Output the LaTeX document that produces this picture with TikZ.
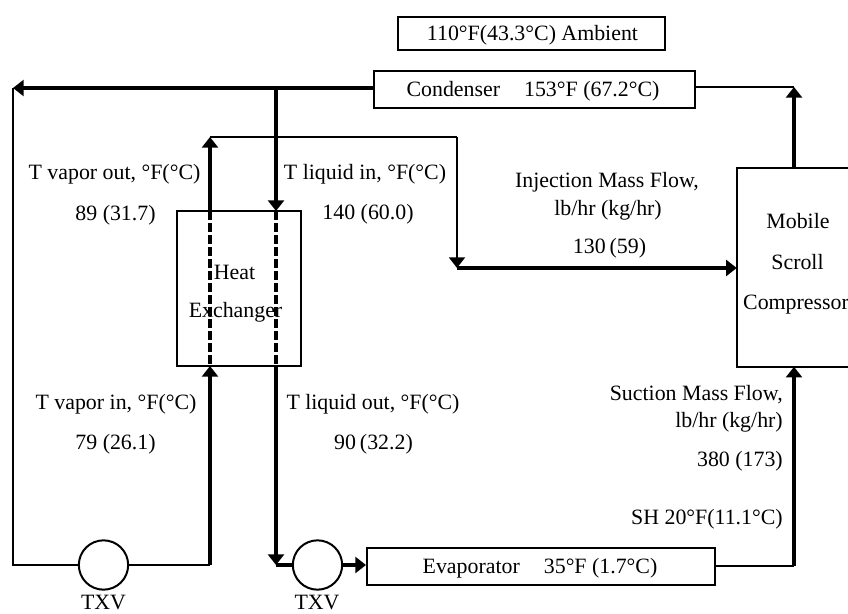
\documentclass[tikz,border=0pt]{standalone}
\usepackage{fontspec}
\setmainfont{Liberation Serif}
\usetikzlibrary{positioning,arrows.meta}

\tikzset{
  box/.style={draw, line width=1.5pt, inner sep=0pt},
  valve/.style={draw, circle, line width=1.5pt, minimum size=37pt, inner sep=0pt},
  thinline/.style={line width=1.5pt},
  thickline/.style={line width=3pt},
  flow/.style={thickline, -{Triangle[length=8pt, width=12pt]}},
  split/.style={line width=3pt, dash pattern=on 6.8pt off 2.2pt},
  lbl/.style={inner sep=0pt, anchor=base, font=\fontsize{16.4}{18}\selectfont}
}

\begin{document}
\begin{tikzpicture}[x=0.75pt, y=-0.75pt]

  \useasboundingbox (0,0) rectangle (848,613);

  % boxes
  \node[box, minimum width=200pt, minimum height=24.75pt] (ambient) at (531.5,33.5) {};
  \node[box, minimum width=240.75pt, minimum height=27.75pt] (condenser) at (534.5,89.5) {};
  \node[box, minimum width=93pt, minimum height=116.25pt] (hx) at (239,288.5) {};
  \node[box, minimum width=261pt, minimum height=27.75pt] (evaporator) at (541,566.5) {};
  \node[minimum width=83.25pt, minimum height=148.5pt, inner sep=0pt] (comp) at (792.5,267.5) {};
  \draw[thinline] (comp.north east) -- (comp.north west) -- (comp.south west) -- (comp.south east);

  % valves
  \node[valve] (txvA) at (103.5,565) {};
  \node[valve] (txvB) at (317.5,565) {};

  % corners and ends
  \coordinate (topL) at (13,88);
  \coordinate (topT) at (276,88);
  \coordinate (hxLtop) at (210,211);
  \coordinate (hxLbot) at (210,366);
  \coordinate (hxRtop) at (276,211);
  \coordinate (hxRbot) at (276,366);
  \coordinate (retTop) at (210,137);
  \coordinate (injTop) at (457,137);
  \coordinate (injBot) at (457,268);
  \coordinate (botL) at (13,565);
  \coordinate (botM) at (210,565);
  \coordinate (botR) at (276,565);
  \coordinate (disTop) at (794,87);
  \coordinate (sucBot) at (794,565.5);

  % thick runs
  \draw[flow] (condenser.west |- topL) -- (topL);
  \draw[flow] (topT) -- (hxRtop);
  \draw[flow] (hxRbot) -- (botR);
  \draw[flow] (botM) -- (hxLbot);
  \draw[flow] (hxLtop) -- (retTop);
  \draw[flow] (injBot) -- (comp.west |- injBot);
  \draw[flow] (comp.north -| disTop) -- (disTop);
  \draw[flow] (sucBot) -- (comp.south -| sucBot);
  \draw[flow] (txvB) -- (evaporator.west |- txvB);
  \draw[thickline] (botR) -- (txvB);

  % thin runs
  \draw[thinline] (topL) -- (botL) -- (txvA);
  \draw[thinline] (txvA) -- (botM);
  \draw[thinline] (retTop) -- (injTop);
  \draw[thinline, -{Triangle[length=8pt, width=12pt]}] (injTop) -- (injBot);
  \draw[thinline] (condenser.east |- disTop) -- (disTop);
  \draw[thinline] (evaporator.east |- sucBot) -- (sucBot);

  % dashed through the exchanger
  \draw[split] (hxLtop) -- (hxLbot);
  \draw[split] (hxRtop) -- (hxRbot);

  % labels
  \node[lbl] (ambientl) at (532.5,41) {110°F(43.3°C) Ambient};
  \node[lbl] (condl) at (533,97) {Condenser\hspace{.85em} 153°F (67.2°C)};
  \node[lbl] (evapl) at (540,573) {Evaporator\hspace{.85em} 35°F (1.7°C)};
  \node[lbl] (heat) at (234.5,279) {Heat};
  \node[lbl] (exch) at (235.5,317) {Exchanger};
  \node[lbl] (mobile) at (798,228) {Mobile};
  \node[lbl] (scroll) at (797.5,269) {Scroll};
  \node[lbl] (compr) at (796,309) {Compressor};
  \node[lbl] (tvo) at (114.5,179) {T vapor out, °F(°C)};
  \node[lbl] (tvoval) at (115.5,220) {89 (31.7)};
  \node[lbl] (tli) at (365,179) {T liquid in, °F(°C)};
  \node[lbl] (tlival) at (368,219) {140 (60.0)};
  \node[lbl] (injA) at (607,187) {Injection Mass Flow,};
  \node[lbl] (injB) at (608,215) {lb/hr (kg/hr)};
  \node[lbl] (injC) at (609.5,253) {130\hspace{.18em}(59)};
  \node[lbl] (tvi) at (116,409) {T vapor in, °F(°C)};
  \node[lbl] (tvival) at (115.5,449) {79 (26.1)};
  \node[lbl] (tlo) at (373,409) {T liquid out, °F(°C)};
  \node[lbl] (tloval) at (373.5,449) {90\hspace{.18em}(32.2)};
  \node[lbl, anchor=base east] (sucA) at (783,400) {Suction Mass Flow,};
  \node[lbl, anchor=base east] (sucB) at (783,427) {lb/hr (kg/hr)};
  \node[lbl, anchor=base east] (sucC) at (783,466) {380 (173)};
  \node[lbl, anchor=base east] (sh) at (783,524) {SH 20°F(11.1°C)};
  \node[lbl] (txvAl) at (103.5,609) {TXV};
  \node[lbl] (txvBl) at (317,609) {TXV};

\end{tikzpicture}
\end{document}
